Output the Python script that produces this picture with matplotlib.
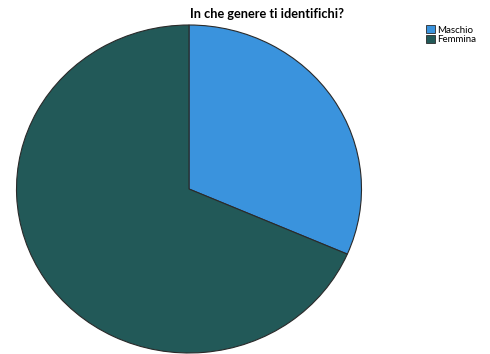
import matplotlib
matplotlib.use("Agg")
import matplotlib.pyplot as plt
from matplotlib.patches import Patch

# Gender split of respondents (percent)
labels = ["Maschio", "Femmina"]
shares = [31.5, 68.5]
colors = ["#3a93dd", "#225958"]
title = "In che genere ti identifichi?"

plt.rcParams["font.family"] = ["Lato", "DejaVu Sans"]

fig = plt.figure(figsize=(4.9, 3.54), dpi=100)
ax = fig.add_axes([16.5 / 490, 1 - 353 / 354, 345 / 490, 328 / 354])

ax.pie(shares, colors=colors, startangle=90, counterclock=False,
       wedgeprops=dict(edgecolor="#2a2a2a", linewidth=0.8))
ax.set_aspect("auto")
ax.set_xlim(-1.0, 1.0)
ax.set_ylim(-1.0, 1.0)
ax.axis("off")

fig.text(266.5 / 490, 1 - 14 / 354, title, ha="center", va="center",
         fontsize=9.2, fontweight="bold")

handles = [Patch(facecolor=c, edgecolor="#2a2a2a", linewidth=0.6) for c in colors]
fig.legend(handles, labels, loc="upper left", bbox_to_anchor=(426 / 490, 1 - 25 / 354),
           frameon=False, fontsize=7, handlelength=0.95, handleheight=0.95,
           handletextpad=0.15, labelspacing=0.0, borderpad=0, borderaxespad=0)

fig.savefig("out.png", dpi=100)
